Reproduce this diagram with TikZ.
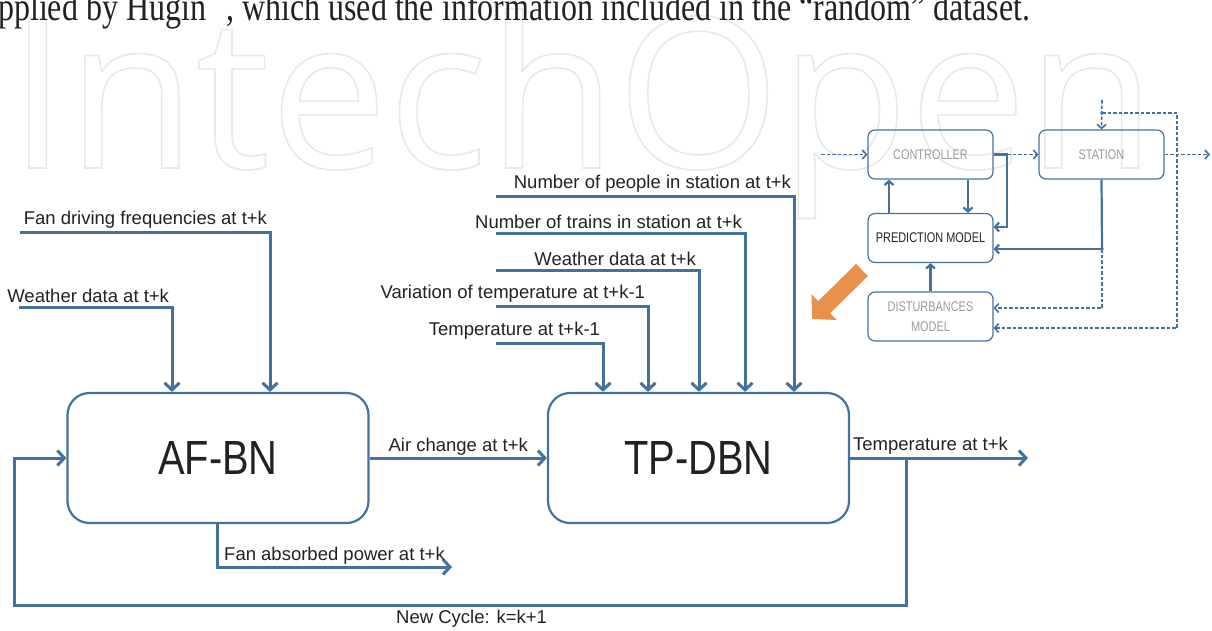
\documentclass[tikz,border=0pt]{standalone}
\usepackage{fontspec}
\setmainfont{Liberation Sans}
\newfontfamily\bigfont[FakeStretch=0.83]{Liberation Sans}
\newfontfamily\insetfont[FakeStretch=0.78]{Liberation Sans}
\newfontfamily\pagefont[FakeStretch=0.8]{Liberation Serif}
\newfontfamily\markfont{Open Sans}
\usetikzlibrary{arrows.meta}
\definecolor{lineblue}{HTML}{46719D}
\definecolor{txtdark}{HTML}{222222}
\definecolor{boxgray}{HTML}{9A9A9A}
\definecolor{wmgray}{HTML}{E9E9E9}
\definecolor{hintorange}{HTML}{E8914A}

% outlined watermark letters (stroke only)
\newcommand{\outlined}[1]{\special{pdf:code 1 Tr 1.6 w}#1\special{pdf:code 0 Tr}}

\tikzset{
  bnbox/.style={draw=lineblue, line width=2.2pt, rounded corners=22pt,
    minimum width=301pt, minimum height=130pt, inner sep=0pt,
    font=\bigfont\fontsize{48}{48}\selectfont, text=txtdark},
  ctlbox/.style={draw=lineblue, line width=1.2pt, rounded corners=7pt,
    minimum width=125pt, minimum height=49pt, inner sep=0pt, align=center,
    font=\insetfont\fontsize{14}{20}\selectfont, text=boxgray},
  lbl/.style={font=\fontsize{18.5}{20}\selectfont, text=txtdark, inner sep=1.5pt},
  flow/.style={draw=lineblue, line width=3pt, ->},
  sline/.style={draw=lineblue, line width=2.2pt},
  sflow/.style={sline, -{Straight Barb[length=4pt, width=9pt]}},
  dline/.style={draw=lineblue, line width=1.6pt, dash pattern=on 3.5pt off 2pt},
  dflow/.style={dline, -{Straight Barb[length=4pt, width=9pt]}}
}

\begin{document}
\begin{tikzpicture}[x=1pt, y=-1pt, >={Straight Barb[length=7pt, width=15pt]}]

\useasboundingbox (0,0) rectangle (1212,630);

% Page background: watermark and cropped text line
\node[font=\markfont\fontsize{210}{210}\selectfont, text=wmgray,
      anchor=base west, inner sep=0pt] (watermark) at (8,168) {\outlined{IntechOpen}};
\node[font=\pagefont\fontsize{40}{40}\selectfont, text=txtdark,
      anchor=base west, inner sep=0pt] (pagetext) at (-2,20)
  {pplied by Hugin\hspace{20pt}, which used the information included in the “random” dataset.};

% =========== Networks ===========
\node[bnbox] (afbn) at (218,458) {AF-BN};
\node[bnbox] (tpdbn) at (698.5,458) {TP-DBN};

% AF-BN inputs
\coordinate (fanin) at (20,232);
\coordinate (wthin) at (19,307);
\draw[flow] (fanin) -| node[lbl, pos=0.5, anchor=south east, yshift=1pt]
  {Fan driving frequencies at t+k} ([xshift=52pt]afbn.north);
\draw[flow] (wthin) -| node[lbl, pos=0.5, anchor=south east, yshift=1pt]
  {Weather data at t+k} ([xshift=-46pt]afbn.north);

% TP-DBN inputs
\foreach \dx/\yy/\txt [count=\i] in {-95.5/343/Temperature at t+k-1,
    -50.5/306/Variation of temperature at t+k-1, 0.5/270/Weather data at t+k,
    46.5/233/Number of trains in station at t+k, 95.5/196/Number of people in station at t+k} {
  \coordinate (tpin\i) at (496,\yy);
  \draw[flow] (tpin\i) -| node[lbl, pos=0.5, anchor=south east, yshift=1pt]
    {\txt} ([xshift=\dx pt]tpdbn.north);
}

% Between and out of the networks
\draw[flow] (afbn) -- node[lbl, above] {Air change at t+k} (tpdbn);

\coordinate (tempout) at (1028,458);
\draw[flow] (tpdbn) -- node[lbl, pos=0, anchor=south west, yshift=1pt]
  {Temperature at t+k} (tempout);

\coordinate (fanout) at (452,567);
\draw[flow] ([xshift=-1pt]afbn.south) |- node[lbl, pos=0.75, above]
  {Fan absorbed power at t+k} (fanout);

% New cycle feedback
\coordinate (fbsplit) at (906,458);
\coordinate (fbright) at (906,605);
\coordinate (fbleft) at (14,605);
\draw[flow] (fbsplit) -- (fbright) -- node[lbl, pos=0.487, below, yshift=-2pt]
  {New Cycle: k=k+1} (fbleft) |- (afbn.west);

% =========== Control scheme (top right) ===========
\node[ctlbox] (ctrl) at (930.5,154.5) {CONTROLLER};
\node[ctlbox] (stat) at (1101.5,154.5) {STATION};
\node[ctlbox, text=txtdark] (pred) at (930.5,238) {PREDICTION MODEL};
\node[ctlbox] (dist) at (930.5,316.5) {DISTURBANCES\\MODEL};

\coordinate (ctrlin) at (821,154.5);
\coordinate (statout) at (1210,154.5);
\coordinate (stattop) at (1102,100);
\coordinate (split1) at (1007,154.5);
\coordinate (split2) at (1102,249);
\coordinate (split3) at (1102,113);
\coordinate (loopr) at (1177,113);

\draw[dflow] (ctrlin) -- (ctrl.west);
\draw[sline] (ctrl.east) -- (split1);
\draw[dflow] (split1) -- (stat.west);
\draw[sflow] (split1) |- ([yshift=11pt]pred.east);
\draw[sflow] ([xshift=37.5pt]ctrl.south) -- ([xshift=37.5pt]pred.north);
\draw[sflow] ([xshift=-41.5pt]pred.north) -- ([xshift=-41.5pt]ctrl.south);
\draw[sflow] (dist) -- (pred);
\draw[sline] (stat.south) -- (split2);
\draw[sflow] (split2) -- ([yshift=-11pt]pred.east);
\draw[dflow] (split2) |- ([yshift=8.5pt]dist.east);
\draw[dflow] (stat.east) -- (statout);
\draw[dflow] (stattop) -- (stat.north);
\draw[dflow] (split3) -- (loopr) |- ([yshift=-11.5pt]dist.east);
\foreach \p in {split1, split2, split3}
  \fill[lineblue] (\p) circle (1.8pt);

% Orange pointer
\coordinate (hinttail) at (862,270);
\coordinate (hinttip) at (812,319);
\draw[hintorange, line width=17pt, -{Triangle[length=17pt, width=35pt]}] (hinttail) -- (hinttip);

\end{tikzpicture}
\end{document}
